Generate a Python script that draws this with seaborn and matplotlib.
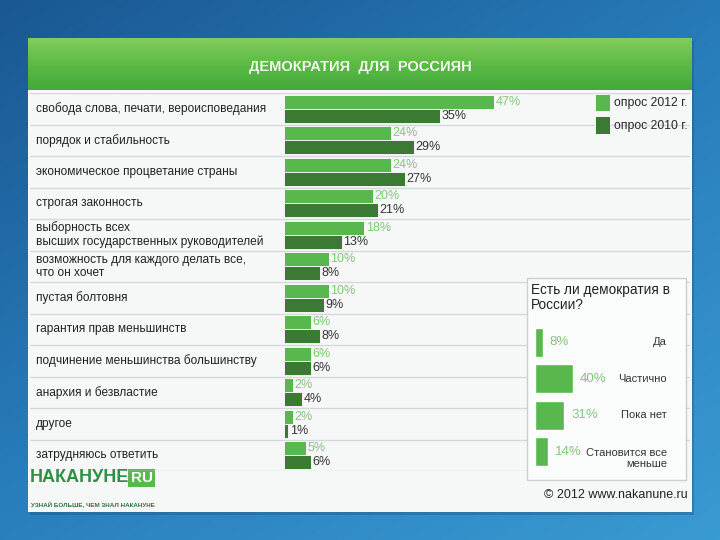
import numpy as np
import pandas as pd
import seaborn as sns
import matplotlib.pyplot as plt
from matplotlib.colors import LinearSegmentedColormap
from matplotlib.patches import Rectangle
from matplotlib.transforms import blended_transform_factory

sns.set_theme(style="white")
plt.rcParams['font.family'] = ['Liberation Sans', 'DejaVu Sans']

# main chart data
answers = ["свобода слова, печати, вероисповедания",
           "порядок и стабильность",
           "экономическое процветание страны",
           "строгая законность",
           "выборность всех\nвысших государственных руководителей",
           "возможность для каждого делать все,\nчто он хочет",
           "пустая болтовня",
           "гарантия прав меньшинств",
           "подчинение меньшинства большинству",
           "анархия и безвластие",
           "другое",
           "затрудняюсь ответить"]
poll_2012 = [47, 24, 24, 20, 18, 10, 10, 6, 6, 2, 2, 5]
poll_2010 = [35, 29, 27, 21, 13, 8, 9, 8, 6, 4, 1, 6]
series = ["опрос 2012 г.", "опрос 2010 г."]

# inset data
inset_title = "Есть ли демократия в\nРоссии?"
inset_cats = ["Да", "Частично", "Пока нет", "Становится все\nменьше"]
inset_vals = [8, 40, 31, 14]

LIGHT = "#58b84e"
DARK = "#3b7a33"

W, H = 720, 540
fig = plt.figure(figsize=(7.2, 5.4), dpi=100)


def box(x0, y0, x1, y1):
    return [x0 / W, 1 - y1 / H, (x1 - x0) / W, (y1 - y0) / H]


# blue background + white panel
bg = fig.add_axes([0, 0, 1, 1], zorder=0)
gy, gx = np.mgrid[0:1:200j, 0:1:200j]
grad = 0.55 * gy + 0.45 * gx
blue = LinearSegmentedColormap.from_list("b", ["#1a5892", "#287dbb", "#3a9ad2"])
bg.imshow(grad, cmap=blue, aspect="auto", extent=[0, 1, 0, 1], origin="upper")
bg.add_patch(Rectangle((30 / W, 1 - 515 / H), 664 / W, 474 / H,
                       transform=bg.transAxes, facecolor="#1d4f7a",
                       alpha=0.35, edgecolor="none", zorder=2))
bg.add_patch(Rectangle((28 / W, 1 - 512 / H), 664 / W, 474 / H,
                       transform=bg.transAxes, facecolor="#f6f8f8",
                       edgecolor="none", zorder=3))
bg.set_xlim(0, 1)
bg.set_ylim(0, 1)
bg.set_axis_off()

# green header
hd = fig.add_axes(box(28, 38, 692, 90), zorder=1)
green = LinearSegmentedColormap.from_list("g", ["#84cc5e", "#5dbb46", "#43a93b"])
hd.imshow(np.linspace(0, 1, 50)[:, None], cmap=green, aspect="auto",
          extent=[0, 1, 0, 1])
hd.set_axis_off()
hd.text(0.5, 0.45, "ДЕМОКРАТИЯ  ДЛЯ  РОССИЯН", ha="center", va="center",
        color="#f2f8ee", fontsize=10.5, fontweight="bold")

# main bars
df = pd.DataFrame({
    "answer": answers * 2,
    "value": poll_2012 + poll_2010,
    "poll": [series[0]] * len(answers) + [series[1]] * len(answers),
})
ax = fig.add_axes(box(30, 93, 690, 471), zorder=2)
ax.patch.set_alpha(0)
sns.barplot(data=df, y="answer", x="value", hue="poll", hue_order=series,
            palette=[LIGHT, DARK], orient="h", width=0.88, ax=ax,
            edgecolor="white", linewidth=0.6, saturation=1)
ppx = 4.47
ax.set_xlim(-(284 - 30) / ppx, (690 - 284) / ppx)
ax.set_ylim(len(answers) - 0.5, -0.5)
for i in range(len(answers) + 1):
    ax.axhline(i - 0.5, color="#d3d8db", lw=1, zorder=0)
for i, lab in enumerate(answers):
    ax.text(-(284 - 36) / ppx, i, lab, ha="left", va="center", fontsize=8.6,
            color="#222222", linespacing=1.1)
ax.bar_label(ax.containers[0], labels=[f"{v}%" for v in poll_2012],
             padding=1, color="#86c47f", fontsize=9)
ax.bar_label(ax.containers[1], labels=[f"{v}%" for v in poll_2010],
             padding=1, color="#333333", fontsize=9)
ax.set_axis_off()
ax.legend(loc="upper left", bbox_to_anchor=((594 - 30) / 660, 1.0),
          frameon=False, fontsize=8.8, handlelength=1.25, handleheight=1.8,
          handletextpad=0.35, labelspacing=0.45, borderaxespad=0.0,
          borderpad=0.05)

# inset
fig.patches.append(Rectangle((527 / W, 1 - 480 / H), 159 / W, 202 / H,
                             transform=fig.transFigure, facecolor="#fbfcfc",
                             edgecolor="#c9cfd2", lw=1, zorder=3))
fig.text(531 / W, 1 - 283 / H, inset_title, ha="left", va="top",
         fontsize=9.8, color="#222222", linespacing=1.05, zorder=5)
ia = fig.add_axes(box(535, 324, 685, 470), zorder=4)
ia.patch.set_alpha(0)
sns.barplot(x=inset_vals, y=inset_cats, color=LIGHT, orient="h", width=0.8,
            ax=ia, saturation=1)
ia.set_xlim(0, 150 / 0.95)
ia.bar_label(ia.containers[0], labels=[f"{v}%" for v in inset_vals],
             padding=5, color="#86c47f", fontsize=9.5)
tr = blended_transform_factory(ia.transAxes, ia.transData)
for i, c in enumerate(inset_cats):
    ia.text((667 - 535) / 150, i + (0.18 if "\n" in c else 0), c, ha="right",
            va="center", fontsize=8, color="#333333", transform=tr,
            linespacing=1.05)
ia.set_axis_off()

# footer
fig.text(688 / W, 1 - 495 / H, "© 2012 www.nakanune.ru", ha="right",
         va="center", fontsize=9, color="#222222", zorder=5)
logo = fig.text(30 / W, 1 - 478 / H, "НАКАНУНЕ", ha="left", va="center",
                fontsize=13, color="#2f8f45", fontweight="bold", zorder=5)
bg.annotate("RU", xy=(1, 0.5), xycoords=logo, xytext=(1, 0),
            textcoords="offset points", ha="left", va="center", fontsize=11,
            color="#ffffff", fontweight="bold", zorder=6,
            bbox=dict(boxstyle="square,pad=0.15", fc="#58b84e", ec="none"))
fig.text(31 / W, 1 - 505 / H, "УЗНАЙ БОЛЬШЕ, ЧЕМ ЗНАЛ НАКАНУНЕ", ha="left",
         va="center", fontsize=4.5, color="#2f6f40", fontweight="bold", zorder=5)

fig.savefig("out.png", dpi=100)
